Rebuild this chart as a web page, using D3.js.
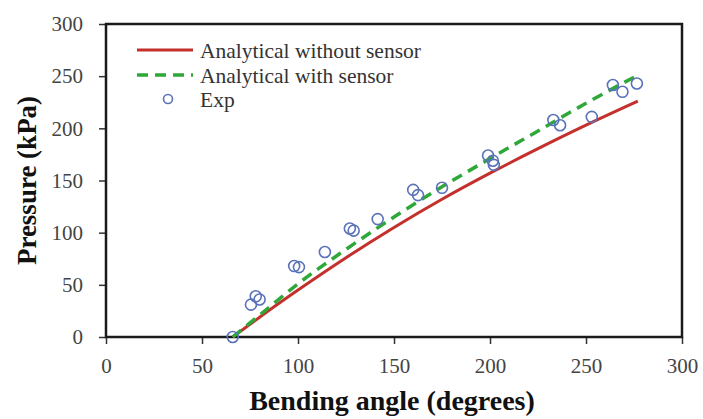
<!DOCTYPE html>
<html>
<head>
<meta charset="utf-8">
<script src="https://cdn.jsdelivr.net/npm/d3@7"></script>
<style>
  body { margin: 0; background: #fff; }
</style>
</head>
<body>
<div id="chart"></div>
<script>
// Data
const xTicks = [0, 50, 100, 150, 200, 250, 300];
const yTicks = [0, 50, 100, 150, 200, 250, 300];

const noSensorX = [66, 80, 100, 125, 150, 175, 200, 225, 250, 277];
const noSensorY = [0, 19, 45, 76, 105, 132, 157, 180.5, 203, 226];

const withSensorX = [66, 80, 100, 125, 150, 175, 200, 225, 250, 277];
const withSensorY = [0, 21, 51, 84, 115, 144, 171, 197.5, 224, 251];

const expX = [66, 75.5, 78, 80, 98, 100.5, 114, 127, 129, 141.5, 160, 162.5, 175, 199, 201.5, 202, 233, 236.5, 253, 264, 269, 276.5];
const expY = [0, 31, 39, 36, 68, 67, 81.5, 104, 102, 113, 141, 136, 143, 174, 169, 165, 208, 203, 211, 241.5, 235, 243];

const legendLabels = ["Analytical without sensor", "Analytical with sensor", "Exp"];

// Layout
const width = 703, height = 419;
const plot = { left: 106, right: 682, top: 24, bottom: 337 };
const serif = "'Liberation Serif', 'Times New Roman', 'DejaVu Serif', serif";

const svg = d3.select("#chart").append("svg")
  .attr("width", width)
  .attr("height", height)
  .style("font-family", serif);

const x = d3.scaleLinear().domain([0, 300]).range([plot.left, plot.right]);
const y = d3.scaleLinear().domain([0, 300]).range([plot.bottom, plot.top]);

// axes
const xAxis = svg.append("g")
  .attr("transform", `translate(0,${plot.bottom})`)
  .call(d3.axisBottom(x).tickValues(xTicks).tickSize(7).tickPadding(14));
const yAxis = svg.append("g")
  .attr("transform", `translate(${plot.left},0)`)
  .call(d3.axisLeft(y).tickValues(yTicks).tickSize(7).tickPadding(16));

[xAxis, yAxis].forEach(function(g) {
  g.select(".domain").remove();
  g.selectAll(".tick line").attr("stroke", "#333").attr("stroke-width", 1.5);
  g.selectAll(".tick text")
    .attr("fill", "#444")
    .style("font-family", serif)
    .style("font-size", "21px");
});

// frame
svg.append("rect")
  .attr("x", plot.left)
  .attr("y", plot.top)
  .attr("width", plot.right - plot.left)
  .attr("height", plot.bottom - plot.top)
  .attr("fill", "none")
  .attr("stroke", "#1a1a1a")
  .attr("stroke-width", 2.5);

// lines
const line = d3.line()
  .curve(d3.curveMonotoneX)
  .x(function(d) { return x(d[0]); })
  .y(function(d) { return y(d[1]); });

svg.append("path")
  .datum(d3.zip(noSensorX, noSensorY))
  .attr("d", line)
  .attr("fill", "none")
  .attr("stroke", "#c4302b")
  .attr("stroke-width", 3);

svg.append("path")
  .datum(d3.zip(withSensorX, withSensorY))
  .attr("d", line)
  .attr("fill", "none")
  .attr("stroke", "#2fa83a")
  .attr("stroke-width", 3.5)
  .attr("stroke-dasharray", "11,7");

// experimental points
svg.selectAll("circle.exp")
  .data(d3.zip(expX, expY))
  .join("circle")
    .attr("class", "exp")
    .attr("cx", function(d) { return x(d[0]); })
    .attr("cy", function(d) { return y(d[1]); })
    .attr("r", 5.5)
    .attr("fill", "none")
    .attr("stroke", "#5a72b8")
    .attr("stroke-width", 1.6);

// legend
const legend = svg.append("g");
const legendY = [50, 75, 99];
legend.append("line")
  .attr("x1", 137).attr("x2", 193)
  .attr("y1", legendY[0]).attr("y2", legendY[0])
  .attr("stroke", "#c4302b").attr("stroke-width", 3);
legend.append("line")
  .attr("x1", 137).attr("x2", 193)
  .attr("y1", legendY[1]).attr("y2", legendY[1])
  .attr("stroke", "#2fa83a").attr("stroke-width", 3.5)
  .attr("stroke-dasharray", "11,7");
legend.append("circle")
  .attr("cx", 168).attr("cy", legendY[2]).attr("r", 4.5)
  .attr("fill", "none").attr("stroke", "#5a72b8").attr("stroke-width", 1.6);
legend.selectAll("text")
  .data(legendLabels)
  .join("text")
    .attr("x", 200)
    .attr("y", function(d, i) { return legendY[i]; })
    .attr("dy", "0.35em")
    .attr("fill", "#333")
    .style("font-family", serif)
    .style("font-size", "21.5px")
    .text(function(d) { return d; });

// axis titles
svg.append("text")
  .attr("x", (plot.left + plot.right) / 2 - 2)
  .attr("y", 410)
  .attr("text-anchor", "middle")
  .attr("fill", "#111")
  .style("font-family", serif)
  .style("font-size", "28px")
  .style("font-weight", "bold")
  .text("Bending angle (degrees)");

svg.append("text")
  .attr("transform", `translate(27,${(plot.top + plot.bottom) / 2}) rotate(-90)`)
  .attr("text-anchor", "middle")
  .attr("dy", "0.35em")
  .attr("fill", "#111")
  .style("font-family", serif)
  .style("font-size", "27px")
  .style("font-weight", "bold")
  .text("Pressure (kPa)");
</script>
</body>
</html>
